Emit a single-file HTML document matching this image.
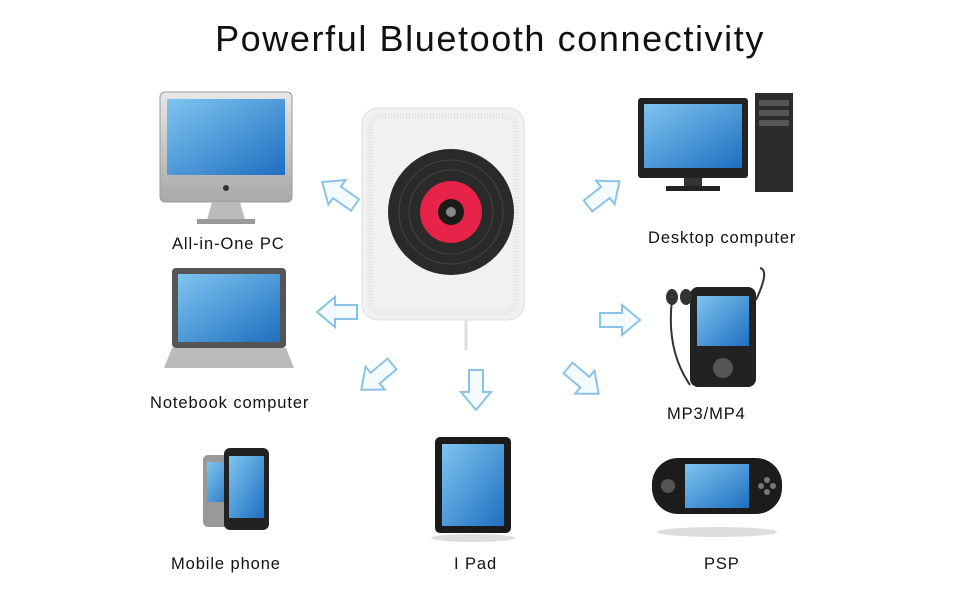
<!DOCTYPE html>
<html><head><style>
body{margin:0;background:#fff;width:970px;height:600px;overflow:hidden;position:relative;font-family:"Liberation Sans","DejaVu Sans",sans-serif}
.t{position:absolute;left:0;width:980px;text-align:center;top:18px;font-size:36px;letter-spacing:1.6px;color:#111}
.l{position:absolute;font-size:16.5px;color:#111;letter-spacing:.9px;white-space:nowrap}
</style></head><body>
<div class="t">Powerful Bluetooth connectivity</div>
<svg width="970" height="600" style="position:absolute;left:0;top:0">
<defs>
<linearGradient id="scr" x1="0" y1="0" x2="1" y2="1"><stop offset="0" stop-color="#7fc4f0"/><stop offset="1" stop-color="#1e6fc0"/></linearGradient>
<linearGradient id="sil" x1="0" y1="0" x2="0" y2="1"><stop offset="0" stop-color="#e8e8e8"/><stop offset="1" stop-color="#a8a8a8"/></linearGradient>
<g id="arr"><polygon points="0,-7 22,-7 22,-15 40,0 22,15 22,7 0,7" fill="#f4fbff" stroke="#8ac3e6" stroke-width="2"/></g>
</defs>
<rect x="362" y="108" width="162" height="212" rx="16" fill="#f1f1f1" stroke="#ddd"/>
<rect x="370" y="116" width="146" height="196" rx="12" fill="none" stroke="#e2e2e2" stroke-width="6" stroke-dasharray="1 2"/>
<line x1="466" y1="320" x2="466" y2="350" stroke="#ddd" stroke-width="3"/>
<circle cx="451" cy="212" r="63" fill="#2a2a2a"/>
<circle cx="451" cy="212" r="52" fill="none" stroke="#444" stroke-width="1"/>
<circle cx="451" cy="212" r="42" fill="none" stroke="#444" stroke-width="1"/>
<circle cx="451" cy="212" r="31" fill="#e8234a"/>
<circle cx="451" cy="212" r="13" fill="#1a1a1a"/>
<circle cx="451" cy="212" r="5" fill="#888"/>
<rect x="160" y="92" width="132" height="110" rx="5" fill="url(#sil)" stroke="#999"/>
<rect x="167" y="99" width="118" height="76" fill="url(#scr)"/>
<circle cx="226" cy="188" r="3" fill="#333"/>
<polygon points="212,202 240,202 245,220 207,220" fill="#bbb"/>
<rect x="197" y="219" width="58" height="5" fill="#999"/>
<rect x="638" y="98" width="110" height="80" rx="3" fill="#222"/>
<rect x="644" y="104" width="98" height="64" fill="url(#scr)"/>
<rect x="684" y="178" width="18" height="8" fill="#333"/>
<rect x="666" y="186" width="54" height="5" fill="#222"/>
<rect x="755" y="93" width="38" height="99" fill="#2b2b2b"/>
<rect x="759" y="100" width="30" height="6" fill="#555"/><rect x="759" y="110" width="30" height="6" fill="#555"/><rect x="759" y="120" width="30" height="6" fill="#555"/>
<rect x="172" y="268" width="114" height="80" rx="4" fill="#555"/>
<rect x="178" y="274" width="102" height="68" fill="url(#scr)"/>
<polygon points="172,348 286,348 294,368 164,368" fill="#bbb"/>
<rect x="690" y="287" width="66" height="100" rx="8" fill="#222"/>
<rect x="697" y="296" width="52" height="50" fill="url(#scr)"/>
<circle cx="723" cy="368" r="10" fill="#555"/>
<path d="M672 300 Q666 350 690 385" fill="none" stroke="#333" stroke-width="2"/>
<ellipse cx="672" cy="297" rx="6" ry="8" fill="#333"/><ellipse cx="686" cy="297" rx="6" ry="8" fill="#333"/>
<path d="M756 300 Q770 270 760 268" fill="none" stroke="#333" stroke-width="2"/>
<rect x="203" y="455" width="38" height="72" rx="5" fill="#999"/>
<rect x="207" y="462" width="30" height="40" fill="url(#scr)"/>
<rect x="224" y="448" width="45" height="82" rx="6" fill="#222"/>
<rect x="229" y="456" width="35" height="62" fill="url(#scr)"/>
<ellipse cx="473" cy="538" rx="42" ry="4" fill="#ddd"/>
<rect x="435" y="437" width="76" height="96" rx="5" fill="#1a1a1a"/>
<rect x="442" y="444" width="62" height="82" fill="url(#scr)"/>
<ellipse cx="717" cy="532" rx="60" ry="5" fill="#ddd"/>
<rect x="652" y="458" width="130" height="56" rx="26" fill="#1c1c1c"/>
<rect x="685" y="464" width="64" height="44" fill="url(#scr)"/>
<circle cx="668" cy="486" r="7" fill="#555"/>
<circle cx="767" cy="480" r="3" fill="#777"/><circle cx="767" cy="492" r="3" fill="#777"/><circle cx="761" cy="486" r="3" fill="#777"/><circle cx="773" cy="486" r="3" fill="#777"/>
<use href="#arr" transform="translate(355,205) rotate(-145)"/>
<use href="#arr" transform="translate(357,312) rotate(180)"/>
<use href="#arr" transform="translate(392,364) rotate(140)"/>
<use href="#arr" transform="translate(476,370) rotate(90)"/>
<use href="#arr" transform="translate(568,368) rotate(40)"/>
<use href="#arr" transform="translate(600,320)"/>
<use href="#arr" transform="translate(588,206) rotate(-38)"/>
</svg>
<div class="l" style="left:172px;top:235px">All-in-One PC</div>
<div class="l" style="left:648px;top:229px">Desktop computer</div>
<div class="l" style="left:150px;top:394px">Notebook computer</div>
<div class="l" style="left:667px;top:405px">MP3/MP4</div>
<div class="l" style="left:171px;top:555px">Mobile phone</div>
<div class="l" style="left:454px;top:555px">I Pad</div>
<div class="l" style="left:704px;top:555px">PSP</div>
</body></html>
